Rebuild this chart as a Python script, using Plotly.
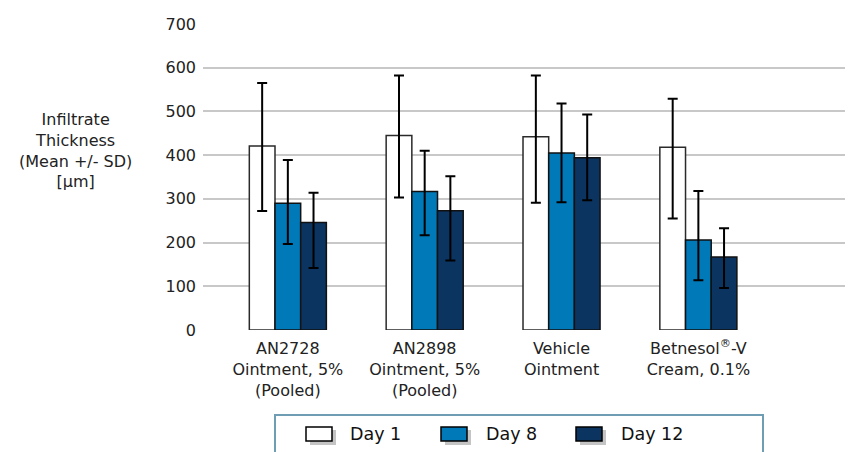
import plotly.graph_objects as go

categories = ["AN2728<br>Ointment, 5%<br>(Pooled)",
              "AN2898<br>Ointment, 5%<br>(Pooled)",
              "Vehicle<br>Ointment",
              "Betnesol<sup>®</sup>-V<br>Cream, 0.1%"]
series_names = ["Day 1", "Day 8", "Day 12"]
day1 = [421, 445, 442, 418]
day1_hi = [565, 582, 582, 529]
day1_lo = [272, 303, 291, 255]
day8 = [290, 317, 405, 206]
day8_hi = [389, 410, 518, 318]
day8_lo = [197, 217, 292, 114]
day12 = [246, 273, 394, 167]
day12_hi = [314, 352, 493, 233]
day12_lo = [142, 159, 297, 96]
y_ticks = [0, 100, 200, 300, 400, 500, 600, 700]
y_title = "Infiltrate<br>Thickness<br>(Mean +/- SD)<br>[µm]"

colors = ["#ffffff", "#0079b9", "#0b3560"]
outline = ["#2a2a2a", "#111111", "#111111"]

OFF = 8  # page body margin
W, H = 853, 452
L, R, T, B = 195, 8, 16, 130
PW, PH = W - L - R, H - T - B


def px(x):
    return (x - OFF - L) / PW


def py(y):
    return (H - B - (y - OFF)) / PH


fig = go.Figure()
for name, vals, hi, lo, c, oc in zip(series_names, [day1, day8, day12],
                                     [day1_hi, day8_hi, day12_hi],
                                     [day1_lo, day8_lo, day12_lo], colors, outline):
    fig.add_trace(go.Bar(
        x=categories, y=vals, name=name,
        marker=dict(color=c, line=dict(color=oc, width=1.5)),
        error_y=dict(type="data", symmetric=False,
                     array=[h - v for h, v in zip(hi, vals)],
                     arrayminus=[v - l for v, l in zip(vals, lo)],
                     color="#000000", thickness=2, width=5),
        showlegend=False,
    ))

shapes = []
annotations = []
# legend box
shapes.append(dict(type="rect", xref="paper", yref="paper",
                   x0=px(275), x1=px(763), y0=py(470), y1=py(415),
                   line=dict(color="#6f9db4", width=2), fillcolor="rgba(0,0,0,0)"))
leg_x = [306, 441, 576]
txt_x = [348, 484, 619]
for i, name in enumerate(series_names):
    x0 = leg_x[i]
    shapes.append(dict(type="rect", xref="paper", yref="paper",
                       x0=px(x0 + 4), x1=px(x0 + 30), y0=py(445), y1=py(430),
                       line=dict(width=0), fillcolor="#c4c4c4"))
    shapes.append(dict(type="rect", xref="paper", yref="paper",
                       x0=px(x0), x1=px(x0 + 26), y0=py(441), y1=py(427),
                       line=dict(color="#000000", width=1.5), fillcolor=colors[i]))
    annotations.append(dict(text=name, xref="paper", yref="paper",
                            x=px(txt_x[i]), y=py(434), xanchor="left", yanchor="middle",
                            showarrow=False, font=dict(size=17.5, color="#111111")))

annotations.append(dict(text=y_title, xref="paper", yref="paper", x=px(75), y=py(150),
                        xanchor="center", yanchor="middle", showarrow=False,
                        align="center", font=dict(size=16, color="#222222")))

fig.update_layout(
    width=W, height=H,
    margin=dict(l=L, r=R, t=T, b=B, autoexpand=False),
    paper_bgcolor="white", plot_bgcolor="white",
    barmode="group", bargap=0.437, bargroupgap=0,
    font=dict(family="DejaVu Sans, Verdana, sans-serif", size=16, color="#222222"),
    shapes=shapes, annotations=annotations,
    xaxis=dict(type="category", range=[-0.62, 4.13], showgrid=False, showline=False,
               zeroline=False, ticks="", ticklabelstandoff=7,
               tickfont=dict(size=16, color="#222222")),
    yaxis=dict(range=[0, 700], tickvals=y_ticks, showgrid=True, gridcolor="#c8c8c8",
               gridwidth=2, zeroline=False, showline=False, ticks="", ticklabelstandoff=6,
               tickfont=dict(size=16, color="#222222")),
)

fig.write_html("out.html")
